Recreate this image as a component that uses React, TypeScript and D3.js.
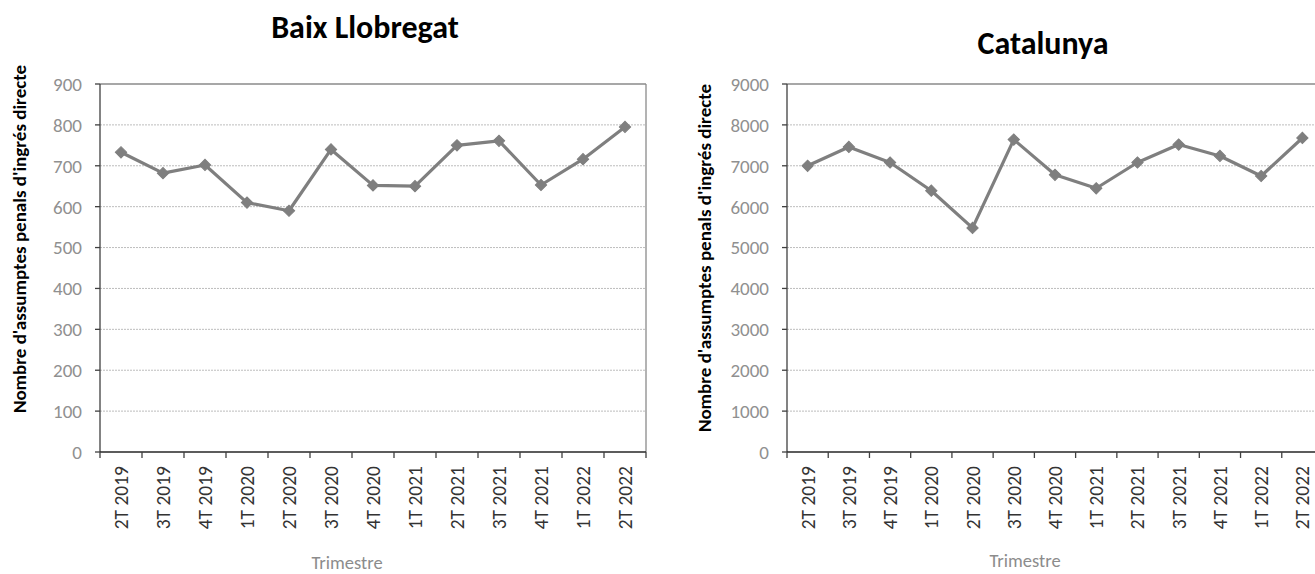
import React from "react";
import * as d3 from "d3";

const categories = ["2T 2019","3T 2019","4T 2019","1T 2020","2T 2020","3T 2020","4T 2020","1T 2021","2T 2021","3T 2021","4T 2021","1T 2022","2T 2022"];
const baixValues = [733, 682, 702, 610, 590, 740, 652, 650, 750, 761, 653, 716, 795];
const catValues = [7000, 7460, 7080, 6390, 5480, 7640, 6780, 6450, 7080, 7520, 7240, 6750, 7680];
const baixTicks = [0, 100, 200, 300, 400, 500, 600, 700, 800, 900];
const catTicks = [0, 1000, 2000, 3000, 4000, 5000, 6000, 7000, 8000, 9000];

const FONT = "Carlito, Calibri, Lato, 'Open Sans', sans-serif";
const yTitle = "Nombre d'assumptes penals d'ingrés directe";

type PanelProps = {
  title: string;
  values: number[];
  ticks: number[];
  left: number;
  right: number;
  top: number;
  bottom: number;
  titleX: number;
  titleY: number;
  yTitleX: number;
  yTitleY: number;
  xTitleX: number;
  xTitleY: number;
};

function Panel(p: PanelProps) {
  const x = d3.scaleBand<string>().domain(categories).range([p.left, p.right]);
  const yMax = p.ticks[p.ticks.length - 1];
  const y = d3.scaleLinear().domain([0, yMax]).range([p.bottom, p.top]);
  const cx = (i: number) => (x(categories[i]) as number) + x.bandwidth() / 2;
  const line = d3
    .line<number>()
    .x((_, i) => cx(i))
    .y((v) => y(v));
  const diamond = d3.symbol().type(d3.symbolSquare).size(64)() as string;
  const boundaries = categories.map((c) => x(c) as number).concat([p.right]);
  return (
    <g>
      <text x={p.titleX} y={p.titleY} textAnchor="middle" fontFamily={FONT} fontWeight="bold" fontSize={32} fill="#000">
        {p.title}
      </text>
      {p.ticks.slice(1, -1).map((t) => (
        <line key={t} x1={p.left} x2={p.right} y1={y(t)} y2={y(t)} stroke="#bdbdbd" strokeWidth={1} strokeDasharray="2,1" />
      ))}
      <line x1={p.left} x2={p.right} y1={p.top} y2={p.top} stroke="#8a8a8a" strokeWidth={1.3} />
      <line x1={p.right} x2={p.right} y1={p.top} y2={p.bottom} stroke="#8a8a8a" strokeWidth={1.3} />
      <line x1={p.left} x2={p.left} y1={p.top} y2={p.bottom} stroke="#404040" strokeWidth={1.3} />
      {p.ticks.map((t) => (
        <g key={t}>
          <line x1={p.left - 5} x2={p.left} y1={y(t)} y2={y(t)} stroke="#404040" strokeWidth={1.3} />
          <text x={p.left - 18} y={y(t)} dy="0.36em" textAnchor="end" fontFamily={FONT} fontSize={19} fill="#909090">
            {t}
          </text>
        </g>
      ))}
      <line x1={p.left} x2={p.right} y1={p.bottom} y2={p.bottom} stroke="#262626" strokeWidth={1.5} />
      {boundaries.map((b, i) => (
        <line key={i} x1={b} x2={b} y1={p.bottom} y2={p.bottom + 6} stroke="#404040" strokeWidth={1.3} />
      ))}
      {categories.map((c, i) => (
        <text
          key={c}
          transform={`translate(${cx(i)},${p.bottom + 14}) rotate(-90)`}
          dy="0.36em"
          textAnchor="end"
          fontFamily={FONT}
          fontSize={19.5}
          fill="#333333"
        >
          {c}
        </text>
      ))}
      <path d={line(p.values) as string} fill="none" stroke="#7f7f7f" strokeWidth={3.2} strokeLinejoin="round" />
      {p.values.map((v, i) => (
        <path
          key={i}
          d={diamond}
          transform={`translate(${cx(i)},${y(v)}) rotate(45)`}
          fill="#7f7f7f"
          stroke="#7f7f7f"
          strokeWidth={1}
        />
      ))}
      <text
        transform={`translate(${p.yTitleX},${p.yTitleY}) rotate(-90)`}
        textAnchor="middle"
        fontFamily={FONT}
        fontWeight="bold"
        fontSize={19}
        fill="#000"
      >
        {yTitle}
      </text>
      <text x={p.xTitleX} y={p.xTitleY} textAnchor="middle" fontFamily={FONT} fontSize={18.5} fill="#8c8c8c">
        Trimestre
      </text>
    </g>
  );
}

export default function App() {
  return (
    <svg
      width={1315}
      height={574}
      style={{ position: "absolute", left: 0, top: 0, background: "#fff" }}
    >
      <rect x={0} y={0} width={1315} height={574} fill="#fff" />
      <Panel
        title="Baix Llobregat"
        values={baixValues}
        ticks={baixTicks}
        left={100}
        right={646}
        top={84}
        bottom={452}
        titleX={365}
        titleY={38}
        yTitleX={26}
        yTitleY={239}
        xTitleX={347}
        xTitleY={569}
      />
      <Panel
        title="Catalunya"
        values={catValues}
        ticks={catTicks}
        left={787}
        right={1323}
        top={84}
        bottom={452}
        titleX={1043}
        titleY={54}
        yTitleX={711}
        yTitleY={258}
        xTitleX={1025}
        xTitleY={567}
      />
    </svg>
  );
}
